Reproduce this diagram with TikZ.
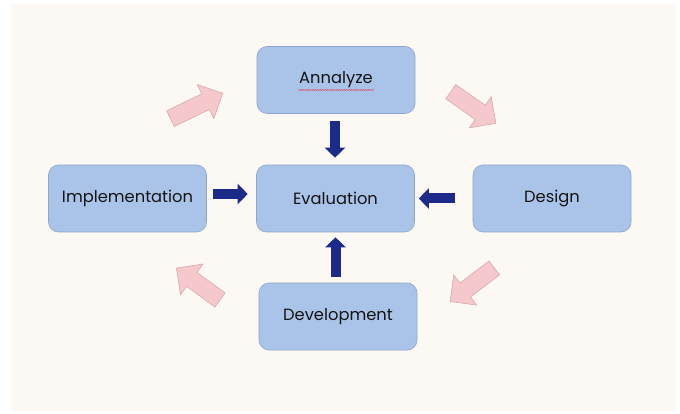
\documentclass[tikz,border=0pt]{standalone}
\usepackage{fontspec}
\setmainfont{Poppins}
\usetikzlibrary{arrows.meta,calc,decorations.pathmorphing}
\definecolor{bgc}{HTML}{FCF9F5}
\definecolor{boxfill}{HTML}{A9C4E8}
\definecolor{boxline}{HTML}{8EA6CB}
\definecolor{navy}{HTML}{1C2A8A}
\definecolor{pinkfill}{HTML}{F5C9CB}
\definecolor{pinkline}{HTML}{D8A9AC}
\definecolor{txt}{HTML}{141414}
\definecolor{squig}{HTML}{E0485A}
\tikzset{
  stagebox/.style={draw=boxline, fill=boxfill, line width=0.6pt, rounded corners=10pt,
    minimum width=158pt, minimum height=67pt, text=txt, font=\fontsize{16.3}{18}\selectfont},
  bluearrow/.style={draw=navy, line width=10pt, -{Triangle[width=20pt,length=10pt]}},
  pinkarrow/.style={draw=pinkline, fill=pinkfill, line width=0.6pt, line join=miter}
}
\newcommand\pinkarr[4]{%
  \begin{scope}[shift={(#1,#2)}, rotate=-#3]
    \path[pinkarrow] (0,-8.7) -- ({#4-19},-8.7) -- ({#4-19},-19) -- (#4,0)
      -- ({#4-19},19) -- ({#4-19},8.7) -- (0,8.7) -- cycle;
  \end{scope}}
\begin{document}
\begin{tikzpicture}[x=1pt,y=-1pt]
  \useasboundingbox (0,0) rectangle (680,414);
  \fill[bgc] (11,4) rectangle (676,411);
  % stage boxes
  \node[stagebox] (ann) at (336,80) {Annalyze};
  \node[stagebox] (eval) at (335.5,198.5) {Evaluation};
  \node[stagebox] (impl) at (127.5,198.5) {Implementation};
  \node[stagebox] (des) at (552,198.5) {Design};
  \node[stagebox] (dev) at (338,316.5) {Development};
  % spell-check underline
  \draw[squig, line width=0.45pt, decorate,
        decoration={snake, amplitude=0.6pt, segment length=2.4pt}]
        ($(ann.center)+(-38,10)$) -- ($(ann.center)+(38,10)$);
  % blue arrows to Evaluation
  \draw[bluearrow, shorten <=7pt, shorten >=7pt] ([xshift=-1pt]ann.south) -- ([xshift=-0.5pt]eval.north);
  \draw[bluearrow, shorten <=6pt, shorten >=8.5pt] ([yshift=4.5pt]impl.east) -- ([yshift=4.5pt]eval.west);
  \draw[bluearrow, shorten <=18pt, shorten >=4pt] (des.west) -- (eval.east);
  \draw[bluearrow, shorten <=6pt, shorten >=5pt] (eval.south |- dev.north) -- (eval.south);
  % pink cycle arrows
  \pinkarr{170.5}{118.7}{-26}{58}
  \pinkarr{450.8}{91.7}{35}{55}
  \pinkarr{494.3}{267.9}{142.7}{55.5}
  \pinkarr{220}{300}{-143.8}{54}
\end{tikzpicture}
\end{document}
